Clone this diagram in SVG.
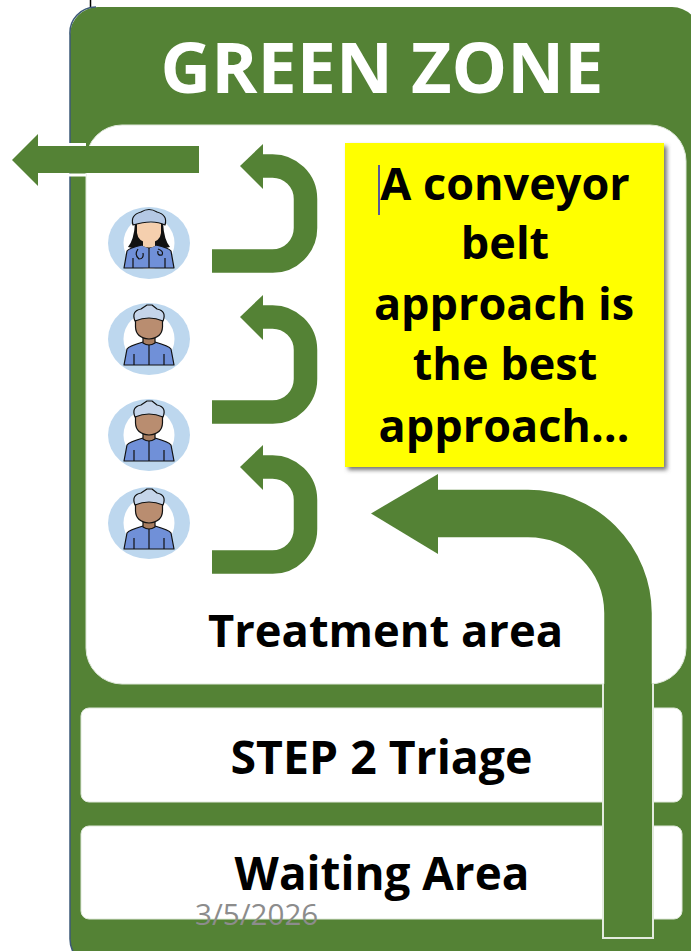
<svg xmlns="http://www.w3.org/2000/svg" width="691" height="951" viewBox="0 0 691 951">
<style>
.f{fill:#548235}
.a{fill:none;stroke:#548235}
.t{font-family:"Open Sans","Liberation Sans",sans-serif;font-weight:700;text-anchor:middle;fill:#000}
.panel{fill:#fff;stroke:#dfe8da;stroke-width:1}
.ic{stroke:#111;stroke-width:1.2;stroke-linejoin:round}
</style>
<defs>
<filter id="sh" x="-5%" y="-5%" width="115%" height="115%"><feGaussianBlur stdDeviation="2"/></filter>
<g id="bg"><ellipse rx="41" ry="36" fill="#bdd7ee"/><ellipse rx="25.500" ry="26" fill="#fff"/></g>
<g id="male">
<use href="#bg"/>
<path class="ic" d="M-25 26L-22 10Q-20 7-6 3L0 5L6 3Q20 7 22 10L25 26Z" fill="#7090d8"/>
<path class="ic" d="M0 5V26M-15 26V15M15 26V15" fill="none"/>
<path class="ic" d="M-6 -3V4Q0 8 6 4V-3Z" fill="#a87d60"/>
<path class="ic" d="M-13.500 -22V-12Q-13 -1 0 0Q13 -1 13.500 -12V-22Z" fill="#b98d70"/>
<path class="ic" d="M-14 -18Q-18 -28 -8 -30L-2 -34H3L8 -30Q18 -28 14 -18Q0 -24 -14 -18Z" fill="#c5d5ea"/>
</g>
</defs>
<g id="outer-zone">
<line x1="90.500" y1="0" x2="90.500" y2="7" stroke="#000" stroke-width="1.500"/>
<rect x="70" y="7" width="630" height="960" rx="28" class="f"/>
<path d="M96 7A26 26 0 0 0 70 35V939A28 28 0 0 0 98 967" fill="none" stroke="#3d5a78" stroke-width="1.500"/>
<text id="title" x="382" y="93" text-anchor="middle" font-family="'Open Sans','Liberation Sans',sans-serif" font-weight="700" font-size="70" fill="#fff">GREEN ZONE</text>
</g>
<g id="treatment-area">
<rect x="86" y="125" width="600" height="559" rx="36" class="panel"/>
<text class="t" x="385.500" y="647" font-size="45.300">Treatment area</text>
</g>
<g id="triage">
<rect x="81" y="708" width="601" height="94" rx="8" class="panel"/>
<text class="t" x="381.500" y="774" font-size="46.400">STEP 2 Triage</text>
</g>
<g id="waiting-area">
<rect x="81" y="826" width="601" height="93" rx="8" class="panel"/>
<text class="t" x="382" y="890" font-size="45.800">Waiting Area</text>
</g>
<g id="note">
<rect x="348" y="146" width="319" height="324" fill="#777" filter="url(#sh)"/>
<rect x="345" y="143" width="319" height="324" fill="#ff0"/>
<text class="t" x="505" y="200" font-size="45">A conveyor</text>
<text class="t" x="505" y="259" font-size="45">belt</text>
<text class="t" x="504" y="320" font-size="45">approach is</text>
<text class="t" x="505" y="380" font-size="45">the best</text>
<text class="t" x="504" y="442" font-size="45">approach…</text>
<line x1="379" y1="165" x2="379" y2="215" stroke="#2222cc" stroke-width="1.500"/>
</g>
<g id="doctor-1">
<g transform="translate(149,243)">
<use href="#bg"/>
<path d="M-14 -20Q-15 -3 -21 4L-12 6H12L21 4Q15 -3 14 -20Z" fill="#111"/>
<path class="ic" d="M-25 25L-22 8Q-20 5 -7 2L0 5L7 2Q20 5 22 8L25 25Z" fill="#7090d8"/>
<path class="ic" d="M0 5V25M-16 25V15M16 25V15" fill="none"/>
<path d="M-6 -4V3Q0 6 6 3V-4Z" fill="#f2cfae"/>
<path d="M-12 -20V-10Q-11 -1 0 0Q11 -1 12 -10V-20Z" fill="#f5cfae"/>
<path class="ic" d="M-16 -18Q-19 -28 -8 -31Q0 -36 8 -31Q19 -28 16 -18Q4 -24 -16 -18Z" fill="#b4c8e4"/>
<path class="ic" d="M-11 6Q-15 12 -10 16Q-5 16 -6 10M9 6Q15 8 13 12Q8 13 9 8" fill="none"/>
</g>
</g>
<g id="doctor-2"><use href="#male" x="149" y="339"/></g>
<g id="doctor-3"><use href="#male" x="149" y="435"/></g>
<g id="doctor-4"><use href="#male" x="149" y="523"/></g>
<g id="connectors">
<path d="M69 144.500H86M69 175H86" stroke="#fff" stroke-width="3" fill="none"/>
<path d="M199 146H38V134L12 160L38 186V173H199Z" class="f"/>
<g id="u1">
<path class="a" stroke-width="23.500" d="M212 261H272A33 33 0 0 0 305.500 228V199A33 33 0 0 0 272 166H258"/>
<path class="f" d="M240 166L263 144V189Z"/>
</g>
<g id="u2" transform="translate(0,151)">
<path class="a" stroke-width="23.500" d="M212 261H272A33 33 0 0 0 305.500 228V199A33 33 0 0 0 272 166H258"/>
<path class="f" d="M240 166L263 144V189Z"/>
</g>
<g id="u3" transform="translate(0,301)">
<path class="a" stroke-width="23.500" d="M212 261H272A33 33 0 0 0 305.500 228V199A33 33 0 0 0 272 166H258"/>
<path class="f" d="M240 166L263 144V189Z"/>
</g>
<g id="main-flow">
<path class="f" d="M603 684V938H653V684Z"/>
<path d="M603 684V938H653V684" fill="none" stroke="#e4ebe0" stroke-width="2"/>
<path class="a" stroke-width="47.500" d="M628 690V613A100 100 0 0 0 528 513.500H430"/>
<path class="f" d="M371 513.500L438 474V554Z"/>
</g>
</g>
<text id="date" x="195" y="925" font-family="'Open Sans','Liberation Sans',sans-serif" font-size="29.600" fill="#8c8c8c">3/5/2026</text>
</svg>
